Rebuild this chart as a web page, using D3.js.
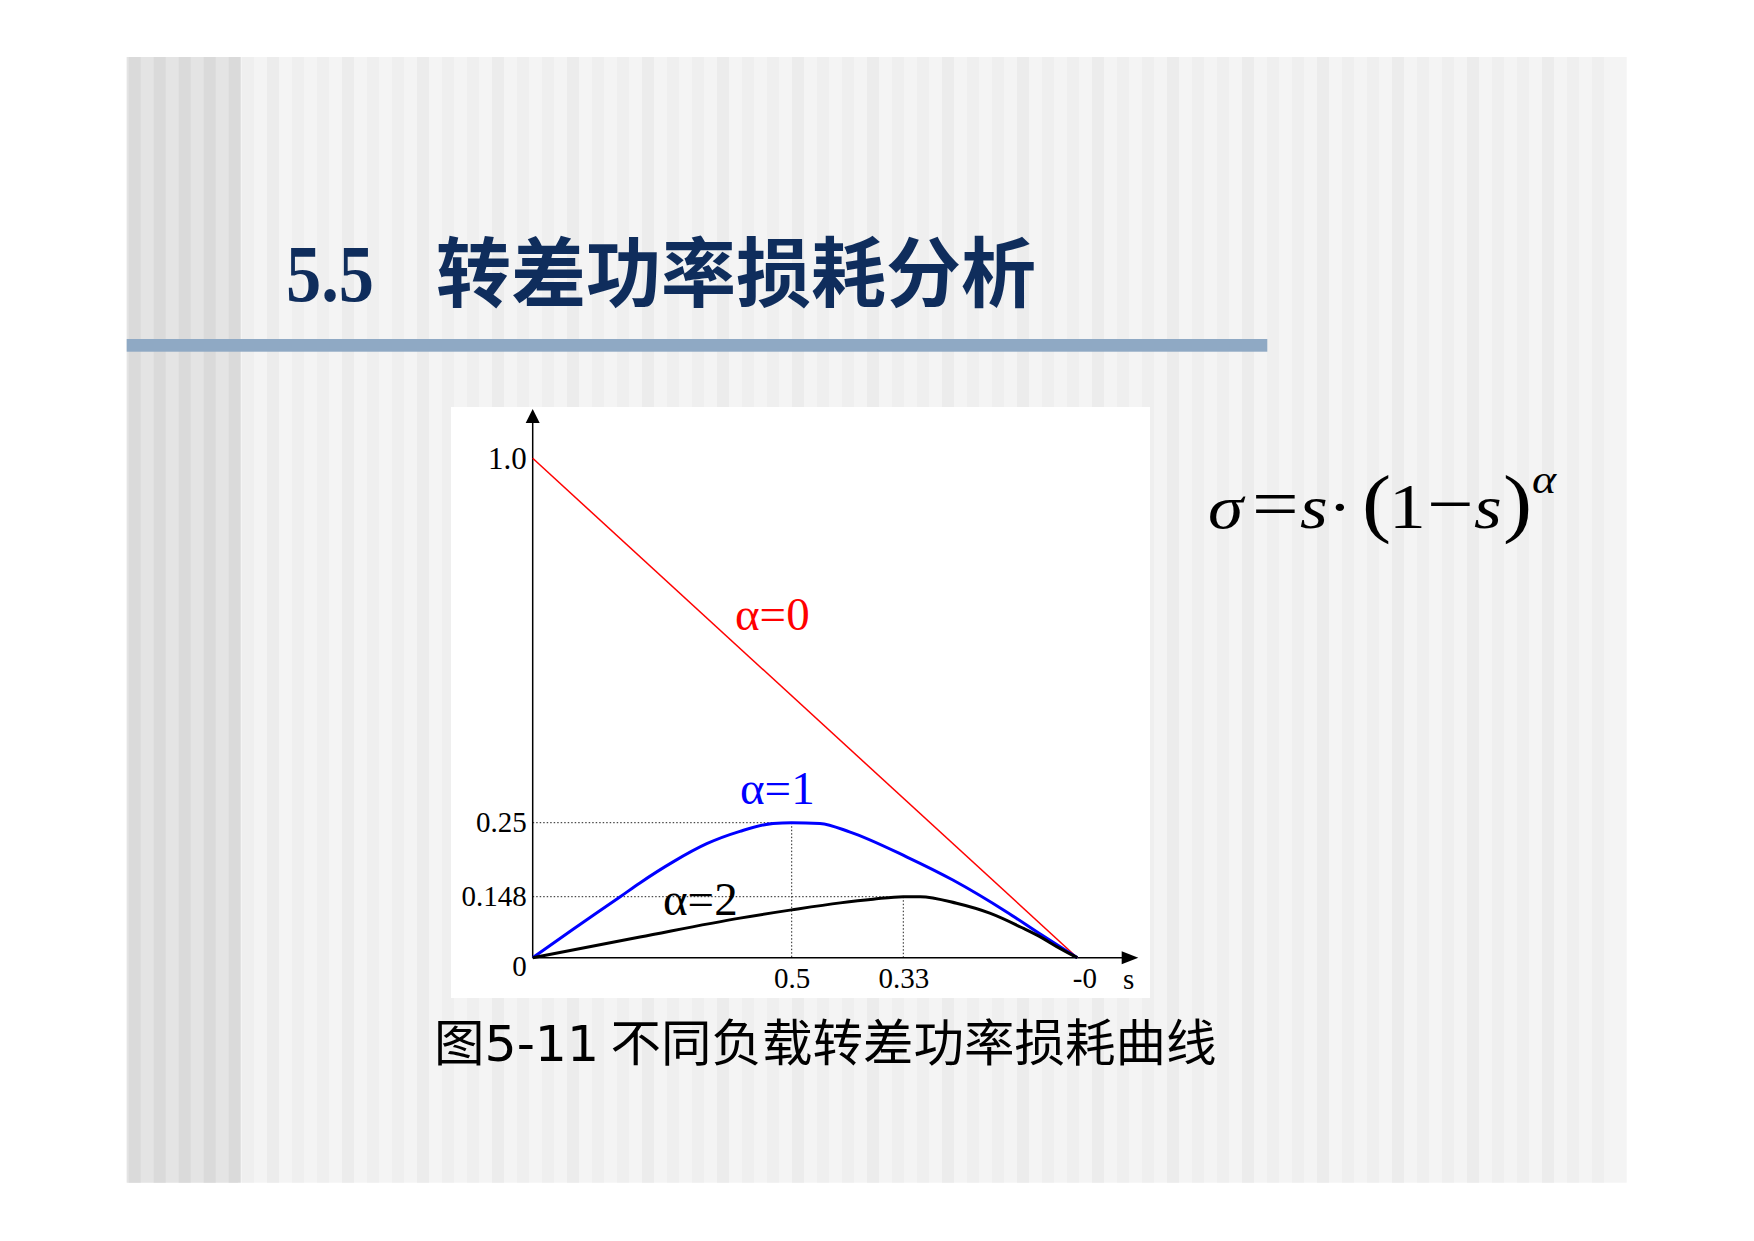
<!DOCTYPE html>
<html><head><meta charset="utf-8">
<script src="https://cdn.jsdelivr.net/npm/d3@7"></script>
<style>html,body{margin:0;padding:0;background:#fff;}</style>
</head><body>
<script>
// ---------------- data ----------------
const yTickValues = [0, 0.148, 0.25, 1];
const yTickLabels = ["0", "0.148", "0.25", "1.0"];
const xTickValues = [0.5, 0.33, 0];
const xTickLabels = ["0.5", "0.33", "-0"];

// α = 0 : straight line
const sAlpha0 = [1, 0];
const sigmaAlpha0 = [1, 0];
// α = 1
const sAlpha1 = [1, 0.922, 0.831, 0.793, 0.729, 0.664, 0.600, 0.536, 0.5, 0.457, 0.411, 0.324, 0.236, 0.134, 0.071, 0];
const sigmaAlpha1 = [0, 0.069, 0.148, 0.167, 0.196, 0.221, 0.238, 0.249, 0.25, 0.249, 0.237, 0.203, 0.171, 0.111, 0.058, 0];
// α = 2
const sAlpha2 = [1, 0.793, 0.600, 0.5, 0.426, 0.376, 0.33, 0.298, 0.229, 0.166, 0.102, 0.071, 0.039, 0];
const sigmaAlpha2 = [0, 0.050, 0.096, 0.116, 0.133, 0.142, 0.148, 0.148, 0.132, 0.108, 0.071, 0.051, 0.027, 0];

const seriesNames = ["α=0", "α=1", "α=2"];
const peakS = [0.5, 0.33];
const peakSigma = [0.25, 0.148];

const titleNum = "5.5";
const titleText = "转差功率损耗分析";
const captionText = ["图", "5-11", " 不同负载转差功率损耗曲线"];

// ---------------- drawing ----------------
const W = 1754, H = 1241;
const svg = d3.select("body").append("svg").attr("width", W).attr("height", H);
svg.append("rect").attr("width", W).attr("height", H).attr("fill", "#ffffff");

// slide background with stripes
const slide = {x0: 126.7, x1: 1626.7, y0: 57, y1: 1182.7};
svg.append("rect").attr("x", slide.x0).attr("y", slide.y0)
  .attr("width", slide.x1 - slide.x0).attr("height", slide.y1 - slide.y0).attr("fill", "#f4f4f4");
const bandEnd = 238;
svg.append("rect").attr("x", slide.x0).attr("y", slide.y0)
  .attr("width", bandEnd - slide.x0).attr("height", slide.y1 - slide.y0).attr("fill", "#e4e4e4");
const leftStripes = d3.range(slide.x0 + 2, bandEnd - 5, 25);
svg.selectAll(".ls").data(leftStripes).join("rect")
  .attr("x", d => d).attr("y", slide.y0).attr("width", 12)
  .attr("height", slide.y1 - slide.y0).attr("fill", "#dadada");
const mainStripes = d3.range(bandEnd + 4, slide.x1 - 10, 25);
svg.selectAll(".ms").data(mainStripes).join("rect")
  .attr("x", d => d).attr("y", slide.y0).attr("width", 12)
  .attr("height", slide.y1 - slide.y0)
  .attr("fill", (d, i) => i % 3 === 1 ? "#ececec" : "#efefef");

// title
svg.append("text").attr("transform", "translate(286,301) scale(0.88,1)")
  .attr("font-family", "Liberation Serif, Times New Roman, serif")
  .attr("font-weight", "bold").attr("font-size", 80).attr("fill", "#0f2d5c")
  .text(titleNum);
svg.append("text").attr("x", 436).attr("y", 301)
  .attr("font-family", "Noto Sans CJK SC, sans-serif")
  .attr("font-weight", "bold").attr("font-size", 76).attr("fill", "#0f2d5c")
  .attr("textLength", 600).attr("lengthAdjust", "spacingAndGlyphs")
  .text(titleText);
// title bar
svg.append("rect").attr("x", slide.x0).attr("y", 339).attr("width", 1267.3 - slide.x0)
  .attr("height", 12.7).attr("fill", "#8fa9c4");

// chart panel
svg.append("rect").attr("x", 451).attr("y", 407).attr("width", 699).attr("height", 591).attr("fill", "#ffffff");

const X0 = 532.7, X05 = 791.7, X033 = 903.3, X1 = 1077.3;
const Y0 = 957.7, Y148 = 896.7, Y25 = 822.7, Y1 = 458.3;
const x = d3.scaleLinear().domain([1, 0.5, 0.33, 0]).range([X0, X05, X033, X1]);
const y = d3.scaleLinear().domain([0, 0.148, 0.25, 1]).range([Y0, Y148, Y25, Y1]);

const serif = "Liberation Serif, Times New Roman, serif";

// dotted guides
const g = svg.append("g");
peakS.forEach((s, i) => {
  g.append("line").attr("x1", x(1)).attr("x2", x(s)).attr("y1", y(peakSigma[i])).attr("y2", y(peakSigma[i]))
    .attr("stroke", "#222").attr("stroke-width", 1).attr("stroke-dasharray", "1.5,2");
  g.append("line").attr("x1", x(s)).attr("x2", x(s)).attr("y1", y(peakSigma[i])).attr("y2", y(0))
    .attr("stroke", "#222").attr("stroke-width", 1).attr("stroke-dasharray", "1.5,2");
});

// axes (labels)
const yAxis = d3.axisLeft(y).tickValues(yTickValues).tickFormat((d, i) => yTickLabels[i]).tickSize(0).tickPadding(6);
const ya = svg.append("g").attr("transform", `translate(${X0},0)`).call(yAxis);
ya.select(".domain").remove();
ya.selectAll("text").attr("font-family", serif).attr("fill", "#000")
  .attr("y", d => d === 0 ? 9 : 0).attr("font-size", d => d === 1 ? 31 : 29);

const xAxis = d3.axisBottom(x).tickValues(xTickValues).tickFormat((d, i) => xTickLabels[i]).tickSize(0).tickPadding(10);
const xa = svg.append("g").attr("transform", `translate(0,${Y0})`).call(xAxis);
xa.select(".domain").remove();
xa.selectAll("text").attr("font-family", serif).attr("font-size", 29).attr("fill", "#000")
  .attr("x", d => d === 0 ? 7 : 0);

// axis lines with arrows
svg.append("line").attr("x1", X0).attr("x2", X0).attr("y1", Y0).attr("y2", 420)
  .attr("stroke", "#000").attr("stroke-width", 1.5);
svg.append("path").attr("d", `M${X0},409 L${X0 - 7},423 L${X0 + 7},423 Z`).attr("fill", "#000");
svg.append("line").attr("x1", X0).attr("x2", 1124).attr("y1", Y0).attr("y2", Y0)
  .attr("stroke", "#000").attr("stroke-width", 1.5);
svg.append("path").attr("d", `M1138.3,${Y0} L1121.7,${Y0 - 6.5} L1121.7,${Y0 + 6.5} Z`).attr("fill", "#000");
svg.append("text").attr("x", 1123).attr("y", 989).attr("font-family", serif).attr("font-size", 29).text("s");

// curves
const line = d3.line().x(d => x(d[0])).y(d => y(d[1])).curve(d3.curveMonotoneX);
const series = [
  {s: sAlpha0, v: sigmaAlpha0, color: "#ff0000", w: 1.5},
  {s: sAlpha1, v: sigmaAlpha1, color: "#0000ff", w: 3},
  {s: sAlpha2, v: sigmaAlpha2, color: "#000000", w: 3}
];
svg.selectAll(".curve").data(series).join("path")
  .attr("d", d => line(d.s.map((s, i) => [s, d.v[i]])))
  .attr("fill", "none").attr("stroke", d => d.color).attr("stroke-width", d => d.w)
  .attr("stroke-linejoin", "round");

// series labels
const labelPos = [[735, 630], [740, 804], [663, 915]];
svg.selectAll(".lab").data(series).join("text")
  .attr("x", (d, i) => labelPos[i][0]).attr("y", (d, i) => labelPos[i][1])
  .attr("font-family", serif).attr("font-size", 47).attr("fill", d => d.color)
  .text((d, i) => seriesNames[i]);

// formula σ = s·(1−s)^α  (single text, horizontally stretched)
const SX = 1.15, FX0 = 1206;
const fx = [
  {t: "σ", X: 1208, it: true, fs: 62},
  {t: "=", X: 1252, it: false, fs: 72},
  {t: "s", X: 1300, it: true, fs: 62},
  {t: "·", X: 1328, it: false, fs: 62},
  {t: "(", X: 1362, it: false, fs: 76},
  {t: "1", X: 1389, it: false, fs: 64},
  {t: "−", X: 1427, it: false, fs: 72},
  {t: "s", X: 1474, it: true, fs: 62},
  {t: ")", X: 1503, it: false, fs: 76},
  {t: "α", X: 1532, it: true, fs: 40, sup: true}
];
const ft = svg.append("text").attr("transform", `translate(${FX0},528) scale(${SX},1)`)
  .attr("font-family", serif).attr("fill", "#000");
ft.selectAll("tspan").data(fx).join("tspan")
  .attr("x", d => (d.X - FX0) / SX)
  .attr("y", d => d.sup ? -35 : 0)
  .attr("font-size", d => d.fs)
  .attr("font-style", d => d.it ? "italic" : "normal")
  .text(d => d.t);

// caption
const cap = svg.append("text").attr("x", 434).attr("y", 1061).attr("font-size", 50.5).attr("fill", "#000")
  .attr("font-family", "Noto Sans CJK SC, sans-serif");
cap.append("tspan").text(captionText[0]);
cap.append("tspan").attr("font-family", "DejaVu Sans, Verdana, sans-serif").text(captionText[1]);
cap.append("tspan").text(captionText[2]);
</script>
</body></html>
